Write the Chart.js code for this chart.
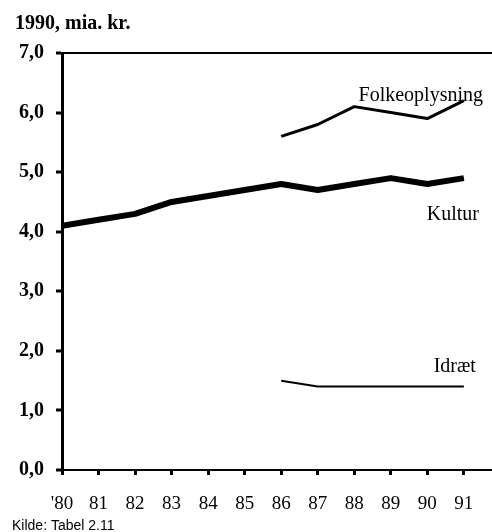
<!DOCTYPE html>
<html lang="da">
<head>
<meta charset="UTF-8">
<title>Kultur, folkeoplysning og idræt</title>
<style>
  html, body { margin: 0; padding: 0; background: #fff; }
  #wrap { width: 492px; height: 532px; position: relative; }
  canvas { display: block; }
</style>
</head>
<body>
<div id="wrap"><canvas id="chart" width="492" height="532"></canvas></div>
<script src="https://cdn.jsdelivr.net/npm/chart.js@4.4.0/dist/chart.umd.min.js"></script>
<script>
const years = [1980, 1981, 1982, 1983, 1984, 1985, 1986, 1987, 1988, 1989, 1990, 1991]
const kultur = [4.1, 4.2, 4.3, 4.5, 4.6, 4.7, 4.8, 4.7, 4.8, 4.9, 4.8, 4.9]
const folkeoplysning = [null, null, null, null, null, null, 5.6, 5.8, 6.1, 6.0, 5.9, 6.2]
const idraet = [null, null, null, null, null, null, 1.5, 1.4, 1.4, 1.4, 1.4, 1.4]
const yTicks = [0, 1, 2, 3, 4, 5, 6, 7]

const serif = '"Liberation Serif", "Times New Roman", serif'

const toPoints = arr => years
  .map((yr, i) => ({ x: yr, y: arr[i] }))
  .filter(p => p.y !== null)

// label anchors in data units (centre of text)
const seriesLabels = [
  { text: 'Folkeoplysning', x: 1989.82, y: 6.28 },
  { text: 'Kultur', x: 1990.7, y: 4.28 },
  { text: 'Idræt', x: 1990.75, y: 1.73 }
]

const textPlugin = {
  id: 'texts',
  afterDraw(chart) {
    const ctx = chart.ctx
    const xs = chart.scales.x
    const ys = chart.scales.y
    ctx.save()
    ctx.fillStyle = '#000'
    ctx.textBaseline = 'middle'
    ctx.textAlign = 'center'
    ctx.font = '20px ' + serif
    seriesLabels.forEach(l => {
      ctx.fillText(l.text, xs.getPixelForValue(l.x), ys.getPixelForValue(l.y))
    })
    ctx.textAlign = 'left'
    ctx.font = 'bold 20px ' + serif
    ctx.fillText('1990, mia. kr.', 15, 24)
    ctx.font = '14px "Liberation Sans Narrow", "Liberation Sans", sans-serif'
    ctx.fillText('Kilde: Tabel 2.11', 12, 526)
    ctx.restore()
  }
}

new Chart(document.getElementById('chart'), {
  type: 'line',
  data: {
    datasets: [
      { label: 'Kultur', data: toPoints(kultur), borderColor: '#000', borderWidth: 6 },
      { label: 'Folkeoplysning', data: toPoints(folkeoplysning), borderColor: '#000', borderWidth: 3 },
      { label: 'Idræt', data: toPoints(idraet), borderColor: '#000', borderWidth: 2 }
    ]
  },
  options: {
    responsive: false,
    animation: false,
    devicePixelRatio: 1,
    layout: { padding: { top: 53, right: 0, left: 0, bottom: 0 } },
    elements: {
      line: { tension: 0, borderCapStyle: 'butt', borderJoinStyle: 'round' },
      point: { radius: 0 }
    },
    plugins: { legend: { display: false }, tooltip: { enabled: false } },
    scales: {
      x: {
        type: 'linear',
        min: 1980,
        max: 1991.77,
        afterFit: s => { s.height = 62 },
        afterBuildTicks: s => { s.ticks = years.map(v => ({ value: v })) },
        ticks: {
          color: '#000',
          font: { family: serif, size: 19 },
          padding: 18,
          maxRotation: 0,
          autoSkip: false,
          callback: v => (v === 1980 ? "'" : '') + String(v).slice(2)
        },
        grid: { drawOnChartArea: false, tickLength: 5, tickWidth: 3, tickColor: '#000' },
        border: { color: '#000', width: 2 }
      },
      y: {
        min: 0,
        max: 7,
        afterFit: s => { s.width = 62 },
        afterBuildTicks: s => { s.ticks = yTicks.map(v => ({ value: v })) },
        ticks: {
          color: '#000',
          font: { family: serif, size: 20, weight: 'bold' },
          padding: 12,
          callback: v => v.toFixed(1).replace('.', ',')
        },
        grid: {
          color: c => (c.tick && c.tick.value === 7 ? '#000' : 'transparent'),
          lineWidth: 2,
          tickLength: 6,
          tickWidth: 3,
          tickColor: '#000'
        },
        border: { color: '#000', width: 3 }
      }
    }
  },
  plugins: [textPlugin]
})
</script>
</body>
</html>
